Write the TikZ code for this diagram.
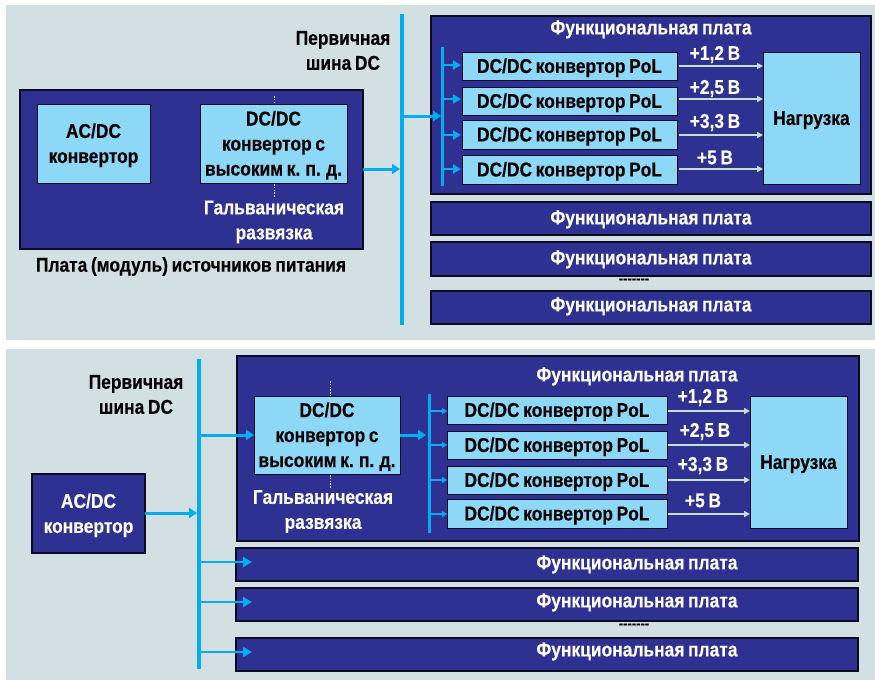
\documentclass[tikz,border=0pt]{standalone}
\usepackage{fontspec}
\usetikzlibrary{arrows.meta}
\newfontfamily\cf[FakeStretch=0.87,FakeBold=0.25,WordSpace=0.75]{Liberation Sans}
\definecolor{panel}{HTML}{D2DFE3}
\definecolor{navy}{HTML}{2E3192}
\definecolor{light}{HTML}{8DD7F7}
\definecolor{cyanbus}{HTML}{00AEEF}
\definecolor{pale}{HTML}{C8DED0}
\definecolor{edge}{HTML}{0B0B22}
\definecolor{dots}{HTML}{C5D5DA}
\tikzset{
  txt/.style={inner sep=0pt,outer sep=0pt,align=center,font=\cf\bfseries\fontsize{20}{25}\selectfont},
  dark/.style={txt,text=black},
  whitetxt/.style={txt,text=white},
  lbl/.style={yshift=-1.5pt},
  navybox/.style={draw=edge,line width=1.6pt,fill=navy,whitetxt},
  lightbox/.style={draw=edge,line width=1pt,fill=light,dark},
  bus/.style={draw=cyanbus,line width=3.8pt},
  subbus/.style={draw=cyanbus,line width=3pt},
  feed/.style={draw=cyanbus,line width=3pt,-{Triangle[length=8pt,width=10pt]}},
  branch/.style={draw=cyanbus,line width=2.8pt,-{Triangle[length=9pt,width=10pt]}},
  tap/.style={draw=cyanbus,line width=2.4pt,-{Triangle[length=8pt,width=9pt]}},
  smalltap/.style={draw=cyanbus,line width=2pt,-{Triangle[length=5pt,width=6pt]}},
  rail/.style={draw=pale,line width=1.8pt,-{Triangle[length=6pt,width=6pt]}},
  iso/.style={draw=dots,line width=1pt,dash pattern=on 1.6pt off 1.2pt},
}
\newcommand{\bx}[7][]{%
  \pgfmathsetmacro{\bxw}{#5-#3}\pgfmathsetmacro{\bxh}{#6-#4}%
  \pgfmathsetmacro{\bxx}{(#5+#3)/2}\pgfmathsetmacro{\bxy}{(#6+#4)/2}%
  \node[#1,minimum width=\bxw pt,minimum height=\bxh pt] (#2) at (\bxx,\bxy) {\rule{0pt}{18pt}#7};}
\begin{document}
\begin{tikzpicture}[x=1pt,y=-1pt]
\useasboundingbox (0,0) rectangle (875,680);
\fill[panel] (6,5) rectangle (875,340);
\fill[panel] (6,349) rectangle (875,680);

% ---------- top panel ----------
\bx[navybox]{psu}{20}{90}{363}{249}{}
\bx[lightbox]{acA}{37}{104}{150}{183}{AC/DC\\конвертор}
\bx[lightbox]{dcA}{200}{104}{347}{183}{DC/DC\\конвертор с\\высоким к. п. д.}
\coordinate (isoA1) at (274,96); \coordinate (isoA2) at (274,104);
\coordinate (isoA3) at (274,184); \coordinate (isoA4) at (274,197);
\draw[iso] (isoA1) -- (isoA2);
\draw[iso] (isoA3) -- (isoA4);
\node[whitetxt,lbl] (galvA) at (274,220.5) {Гальваническая\\развязка};
\node[dark,lbl] (psuT) at (191,265) {Плата (модуль) источников питания};
\node[dark,lbl] (busTA) at (343,49) {Первичная\\шина DC};

\bx[navybox]{fA}{431}{16}{871}{194}{}
\node[whitetxt,lbl] (fAT) at (651,28) {Функциональная плата};
\bx[navybox]{fA2}{431}{202}{871}{235}{}
\node[whitetxt,lbl] (fA2T) at (651,218) {Функциональная плата};
\bx[navybox]{fA3}{431}{242}{871}{276}{}
\node[whitetxt,lbl] (fA3T) at (651,258) {Функциональная плата};
\bx[navybox]{fA4}{431}{291}{871}{324}{}
\node[whitetxt,lbl] (fA4T) at (651,305) {Функциональная плата};
\node[dark,font=\cf\bfseries\fontsize{15}{16}\selectfont] (dotsA) at (634,281) {-------};

\bx[lightbox]{pA1}{462}{52}{677}{80}{DC/DC конвертор PoL}
\bx[lightbox]{pA2}{462}{87}{677}{115}{DC/DC конвертор PoL}
\bx[lightbox]{pA3}{462}{120}{677}{149}{DC/DC конвертор PoL}
\bx[lightbox]{pA4}{462}{155}{677}{184}{DC/DC конвертор PoL}
\bx[lightbox]{lA}{763}{52}{860}{184}{Нагрузка}
\node[whitetxt,lbl] (vA1) at (715,53) {+1,2 В};
\node[whitetxt,lbl] (vA2) at (715,87) {+2,5 В};
\node[whitetxt,lbl] (vA3) at (715,121) {+3,3 В};
\node[whitetxt,lbl] (vA4) at (715,156) {+5 В};

\coordinate (busA1) at (402,14); \coordinate (busA2) at (402,325);
\draw[bus] (busA1) -- (busA2);
\coordinate (subA1) at (442,47); \coordinate (subA2) at (442,186);
\draw[subbus] (subA1) -- (subA2);
\coordinate (inA) at (400,169);
\draw[feed] (psu.east |- inA) -- (inA);
\coordinate (tA) at (402,116); \coordinate (tA2) at (441,116);
\draw[feed] (tA) -- (tA2);
\foreach \n/\yy in {1/65,2/99,3/135,4/169}{
  \coordinate (sA\n) at (442,\yy);
  \coordinate (eA\n) at (461,\yy);
  \draw[tap] (sA\n) -- (eA\n);
}
\foreach \n/\yy in {1/66,2/99,3/135,4/169}{
  \coordinate (rA\n) at (679,\yy);
  \draw[rail] (rA\n) -- (lA.west |- rA\n);
}

% ---------- bottom panel ----------
\bx[navybox]{acB}{32}{474}{145}{553}{AC/DC\\конвертор}
\node[dark,lbl] (busTB) at (136,393) {Первичная\\шина DC};
\bx[navybox]{fB}{237}{356}{859}{541}{}
\node[whitetxt,lbl] (fBT) at (637,375) {Функциональная плата};
\bx[navybox]{fB2}{236}{548}{858}{581}{}
\node[whitetxt,lbl] (fB2T) at (637,563) {Функциональная плата};
\bx[navybox]{fB3}{236}{588}{858}{621}{}
\node[whitetxt,lbl] (fB3T) at (637,601) {Функциональная плата};
\bx[navybox]{fB4}{236}{638}{858}{671}{}
\node[whitetxt,lbl] (fB4T) at (637,650) {Функциональная плата};
\node[dark,font=\cf\bfseries\fontsize{15}{16}\selectfont] (dotsB) at (634,626) {-------};

\bx[lightbox]{dcB}{254}{396}{400}{474}{DC/DC\\конвертор с\\высоким к. п. д.}
\coordinate (isoB1) at (330,381); \coordinate (isoB2) at (330,396);
\coordinate (isoB3) at (330,475); \coordinate (isoB4) at (330,488);
\draw[iso] (isoB1) -- (isoB2);
\draw[iso] (isoB3) -- (isoB4);
\node[whitetxt,lbl] (galvB) at (323,510) {Гальваническая\\развязка};

\bx[lightbox]{pB1}{447}{396}{667}{424}{DC/DC конвертор PoL}
\bx[lightbox]{pB2}{447}{431}{667}{459}{DC/DC конвертор PoL}
\bx[lightbox]{pB3}{447}{466}{667}{494}{DC/DC конвертор PoL}
\bx[lightbox]{pB4}{447}{499}{667}{528}{DC/DC конвертор PoL}
\bx[lightbox]{lB}{750}{396}{847}{528}{Нагрузка}
\node[whitetxt,lbl] (vB1) at (703,396) {+1,2 В};
\node[whitetxt,lbl] (vB2) at (705,430) {+2,5 В};
\node[whitetxt,lbl] (vB3) at (703,464) {+3,3 В};
\node[whitetxt,lbl] (vB4) at (703,499) {+5 В};

\coordinate (busB1) at (199,359); \coordinate (busB2) at (199,669);
\draw[bus] (busB1) -- (busB2);
\coordinate (subB1) at (429,394); \coordinate (subB2) at (429,533);
\draw[subbus] (subB1) -- (subB2);
\coordinate (inB) at (197,513);
\draw[feed] (acB.east |- inB) -- (inB);
\coordinate (tB) at (199,435);
\draw[feed] (tB) -- (dcB.west);
\coordinate (oB) at (426,435);
\draw[feed] (dcB.east) -- (oB);
\foreach \n/\yy in {2/562,3/602,4/652}{
  \coordinate (sB\n) at (199,\yy);
  \coordinate (eB\n) at (252,\yy);
  \draw[branch] (sB\n) -- (eB\n);
}
\foreach \n/\yy in {1/411,2/445,3/480,4/514}{
  \coordinate (uB\n) at (429,\yy);
  \draw[smalltap] (uB\n) -- (pB\n.west |- uB\n);
  \coordinate (rB\n) at (668,\yy);
  \draw[rail] (rB\n) -- (lB.west |- rB\n);
}
\end{tikzpicture}
\end{document}
